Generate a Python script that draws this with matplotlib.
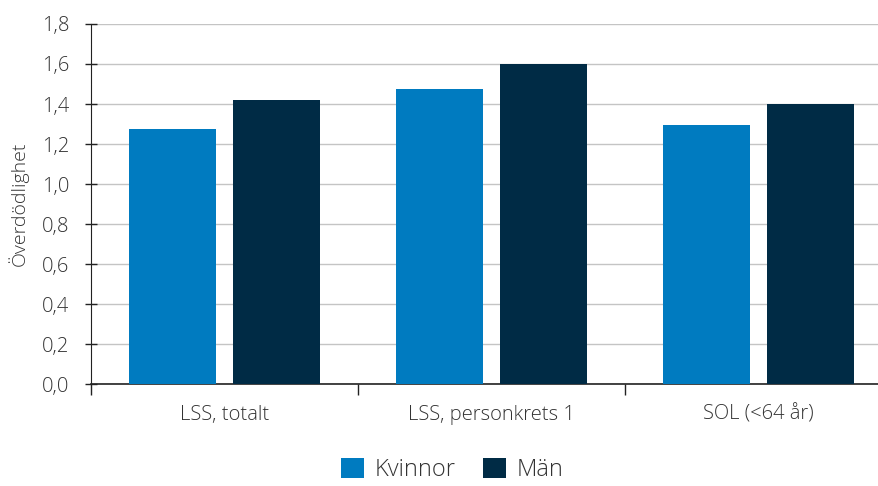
import matplotlib
matplotlib.use("Agg")
import matplotlib.pyplot as plt
import numpy as np

categories = ["LSS, totalt", "LSS, personkrets 1", "SOL (<64 år)"]
kvinnor = [1.275, 1.475, 1.295]
man = [1.42, 1.60, 1.40]
yticks = [0.0, 0.2, 0.4, 0.6, 0.8, 1.0, 1.2, 1.4, 1.6, 1.8]
ytick_labels = ["0,0", "0,2", "0,4", "0,6", "0,8", "1,0", "1,2", "1,4", "1,6", "1,8"]

plt.rcParams['font.family'] = ['Open Sans', 'DejaVu Sans']
plt.rcParams['font.weight'] = 'light'

fig = plt.figure(figsize=(8.79, 4.86), dpi=100)
ax = fig.add_axes([91/879, 102/486, (892-91)/879, (384-24)/486])

x = np.arange(len(categories))
w = 0.326
ax.bar(x - 0.195, kvinnor, w, color="#007BC0", label="Kvinnor", zorder=3)
ax.bar(x + 0.195, man, w, color="#002B45", label="Män", zorder=3)

ax.set_xlim(-0.5, 2.5)
ax.set_ylim(0, 1.8)
ax.set_yticks(yticks)
ax.set_yticklabels(ytick_labels, fontsize=14.5, color="#333333")
ax.set_xticks(x)
ax.set_xticklabels(categories, fontsize=14.5, color="#333333")
ax.tick_params(axis='x', which='major', length=0, pad=15)
ax.set_xticks([-0.5, 0.5, 1.5, 2.5], minor=True)
ax.tick_params(axis='x', which='minor', length=8, width=1, color="#222222")
ax.tick_params(axis='y', direction='inout', length=9, width=1, color="#222222", pad=11)

ax.grid(axis='y', color="#C4C4C4", linewidth=1, zorder=0)
for s in ["top", "right"]:
    ax.spines[s].set_visible(False)
ax.spines["left"].set_color("#222222")
ax.spines["bottom"].set_color("#222222")
ax.spines["bottom"].set_linewidth(1.2)

ax.set_ylabel("Överdödlighet", fontsize=14, color="#333333", fontweight='light')
ax.yaxis.set_label_coords(-(91-29)/801, 0.5)

fig.legend(loc="center", bbox_to_anchor=(452/879, 1 - 470/486), ncol=2, frameon=False,
           fontsize=17, handlelength=0.97, handleheight=0.97, handletextpad=0.45,
           columnspacing=1.15, labelcolor="#333333")

fig.savefig("out.png", dpi=100)
